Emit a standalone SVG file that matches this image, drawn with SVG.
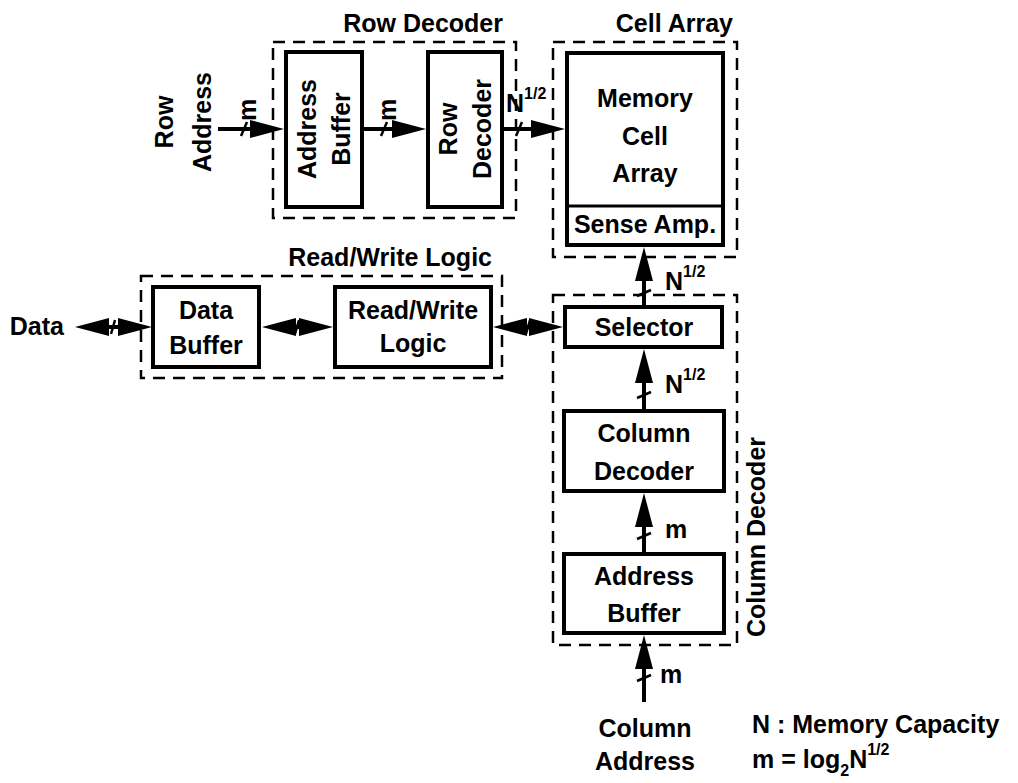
<svg xmlns="http://www.w3.org/2000/svg" width="1018" height="783" viewBox="0 0 1018 783">
<style>
text{font-family:"Liberation Sans",Arial,sans-serif;font-size:25px;font-weight:bold;fill:#000}
.sup{font-size:16px}
.box{fill:none;stroke:#000;stroke-width:4}
.dash{fill:none;stroke:#000;stroke-width:2.5;stroke-dasharray:12 8}
.bus{fill:none;stroke:#000;stroke-width:4}
.tick{stroke:#000;stroke-width:2.5}
.c{text-anchor:middle}
.e{text-anchor:end}
</style>
<defs>
<marker id="ah" markerUnits="userSpaceOnUse" viewBox="0 0 34 18" refX="8" refY="9" markerWidth="34" markerHeight="18" orient="auto-start-reverse">
<path d="M0,0 L34,9 L0,18 Z" fill="#000"/>
</marker>
</defs>
<rect width="1018" height="783" fill="#fff"/>

<g id="row-address">
<text class="c" transform="translate(173,122) rotate(-90)">Row</text>
<text class="c" transform="translate(211,122) rotate(-90)">Address</text>
</g>

<g id="row-decoder-group">
<rect class="dash" x="273" y="42" width="243" height="176"/>
<text class="e" x="503" y="32">Row Decoder</text>
</g>
<g id="row-address-buffer">
<rect class="box" x="286" y="52" width="76" height="155"/>
<text class="c" transform="translate(316,129) rotate(-90)">Address</text>
<text class="c" transform="translate(350,129) rotate(-90)">Buffer</text>
</g>
<g id="row-decoder">
<rect class="box" x="428" y="52" width="74" height="155"/>
<text class="c" transform="translate(457,129) rotate(-90)">Row</text>
<text class="c" transform="translate(491,129) rotate(-90)">Decoder</text>
</g>

<g id="cell-array-group">
<rect class="dash" x="553" y="42" width="184" height="215"/>
<text class="e" x="733" y="32">Cell Array</text>
</g>
<g id="memory-cell-array">
<rect class="box" x="567" y="53" width="156" height="192"/>
<line x1="567" y1="206" x2="723" y2="206" stroke="#000" stroke-width="3"/>
<text class="c" x="645" y="107">Memory</text>
<text class="c" x="645" y="145">Cell</text>
<text class="c" x="645" y="182">Array</text>
<text class="c" x="645" y="233">Sense Amp.</text>
</g>

<g id="rw-group">
<rect class="dash" x="141" y="276" width="361" height="102"/>
<text class="e" x="492" y="266">Read/Write Logic</text>
</g>
<g id="data-buffer">
<rect class="box" x="153" y="287" width="106" height="80"/>
<text class="c" x="206" y="319">Data</text>
<text class="c" x="206" y="354">Buffer</text>
</g>
<g id="rw-logic">
<rect class="box" x="335" y="287" width="156" height="80"/>
<text class="c" x="413" y="319">Read/Write</text>
<text class="c" x="413" y="352">Logic</text>
</g>
<g id="data-label">
<text class="e" x="64" y="335">Data</text>
</g>

<g id="column-decoder-group">
<rect class="dash" x="553" y="295" width="184" height="350"/>
<text class="c" transform="translate(765,537) rotate(-90)">Column Decoder</text>
</g>
<g id="selector">
<rect class="box" x="565" y="307" width="157" height="40"/>
<text class="c" x="644" y="336">Selector</text>
</g>
<g id="column-decoder">
<rect class="box" x="564" y="411" width="160" height="80"/>
<text class="c" x="644" y="442">Column</text>
<text class="c" x="644" y="480">Decoder</text>
</g>
<g id="column-address-buffer">
<rect class="box" x="564" y="554" width="160" height="79"/>
<text class="c" x="644" y="585">Address</text>
<text class="c" x="644" y="622">Buffer</text>
</g>

<g id="column-address">
<text class="c" x="645" y="737">Column</text>
<text class="c" x="645" y="770">Address</text>
</g>
<g id="legend">
<text x="752" y="733">N : Memory Capacity</text>
<text x="752" y="768">m = log<tspan class="sup" dy="8">2</tspan><tspan dy="-8">N</tspan><tspan class="sup" dy="-13">1/2</tspan></text>
</g>

<g id="connectors">
<path class="bus" d="M218,129 H258" marker-end="url(#ah)"/>
<line class="tick" x1="241" y1="136" x2="247" y2="122"/>
<path class="bus" d="M364,129 H400" marker-end="url(#ah)"/>
<line class="tick" x1="381" y1="136" x2="387" y2="122"/>
<path class="bus" d="M504,129 H539" marker-end="url(#ah)"/>
<line class="tick" x1="516" y1="136" x2="522" y2="122"/>

<path class="bus" d="M101,327 H126" marker-start="url(#ah)" marker-end="url(#ah)"/>
<line class="tick" x1="111" y1="334" x2="115" y2="320"/>
<path class="bus" d="M288,327 H307" marker-start="url(#ah)" marker-end="url(#ah)"/>
<line class="tick" x1="295" y1="334" x2="299" y2="320"/>
<path class="bus" d="M519,327 H537" marker-start="url(#ah)" marker-end="url(#ah)"/>
<line class="tick" x1="526" y1="334" x2="530" y2="320"/>

<path class="bus" d="M644,305 V273" marker-end="url(#ah)"/>
<line class="tick" x1="637" y1="296" x2="651" y2="290"/>
<path class="bus" d="M644,409 V375" marker-end="url(#ah)"/>
<line class="tick" x1="637" y1="398" x2="651" y2="392"/>
<path class="bus" d="M644,552 V519" marker-end="url(#ah)"/>
<line class="tick" x1="637" y1="539" x2="651" y2="533"/>
<path class="bus" d="M644,702 V661" marker-end="url(#ah)"/>
<line class="tick" x1="637" y1="681" x2="651" y2="675"/>
</g>

<g id="bus-labels">
<text class="c" transform="translate(256,110) rotate(-90)">m</text>
<text class="c" transform="translate(396,110) rotate(-90)">m</text>
<text x="506" y="112">N<tspan class="sup" dy="-13">1/2</tspan></text>
<text x="665" y="290">N<tspan class="sup" dy="-13">1/2</tspan></text>
<text x="665" y="393">N<tspan class="sup" dy="-13">1/2</tspan></text>
<text x="665" y="538">m</text>
<text x="660" y="683">m</text>
</g>
</svg>
